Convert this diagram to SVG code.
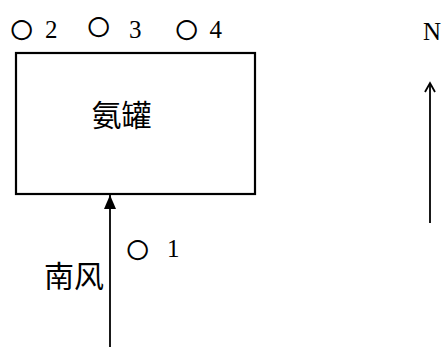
<svg xmlns="http://www.w3.org/2000/svg" width="446" height="347" viewBox="0 0 446 347">
<style>
.lat{font-family:"Liberation Serif","Times New Roman",serif;font-size:25px;fill:#000}
.sym{font-family:"Liberation Serif","DejaVu Serif",serif;font-size:46px;fill:#000}
.cjk{font-family:"Liberation Serif","Noto Sans CJK SC",serif;font-size:30px;fill:#000}
.box{fill:#fff;stroke:#000;stroke-width:2.2}
.ln{stroke:#000;stroke-width:1.8;fill:none}
</style>
<defs>
<marker id="solid" viewBox="0 0 14 12" refX="14" refY="6" markerWidth="14" markerHeight="12" markerUnits="userSpaceOnUse" orient="auto">
<path d="M0,0 L14,6 L0,12 Z" fill="#000"/>
</marker>
</defs>
<rect width="446" height="347" fill="#fff"/>
<g id="tank">
<rect class="box" x="16" y="53" width="239" height="141"/>
<text class="cjk" x="121.5" y="126" text-anchor="middle">氨罐</text>
</g>
<g id="point2"><text class="lat"><tspan class="sym" x="7.8" y="43.6">○</tspan><tspan x="45" y="37.5">2</tspan></text></g>
<g id="point3"><text class="lat"><tspan class="sym" x="84.8" y="41">○</tspan><tspan x="129" y="37.5">3</tspan></text></g>
<g id="point4"><text class="lat"><tspan class="sym" x="172.8" y="43.6">○</tspan><tspan x="209.5" y="37.5">4</tspan></text></g>
<g id="point1"><text class="lat"><tspan class="sym" x="123.8" y="264">○</tspan><tspan x="167" y="257">1</tspan></text></g>
<g id="wind-label"><text class="cjk" x="74" y="287" text-anchor="middle">南风</text></g>
<g id="north-label"><text class="lat" x="423" y="40">N</text></g>
<g id="connectors">
<line class="ln" x1="110" y1="347" x2="110" y2="195" marker-end="url(#solid)"/>
<line class="ln" x1="430" y1="223" x2="430" y2="84"/>
<path class="ln" d="M425,92 L430,83 L435,92" stroke-width="1.6"/>
</g>
</svg>
